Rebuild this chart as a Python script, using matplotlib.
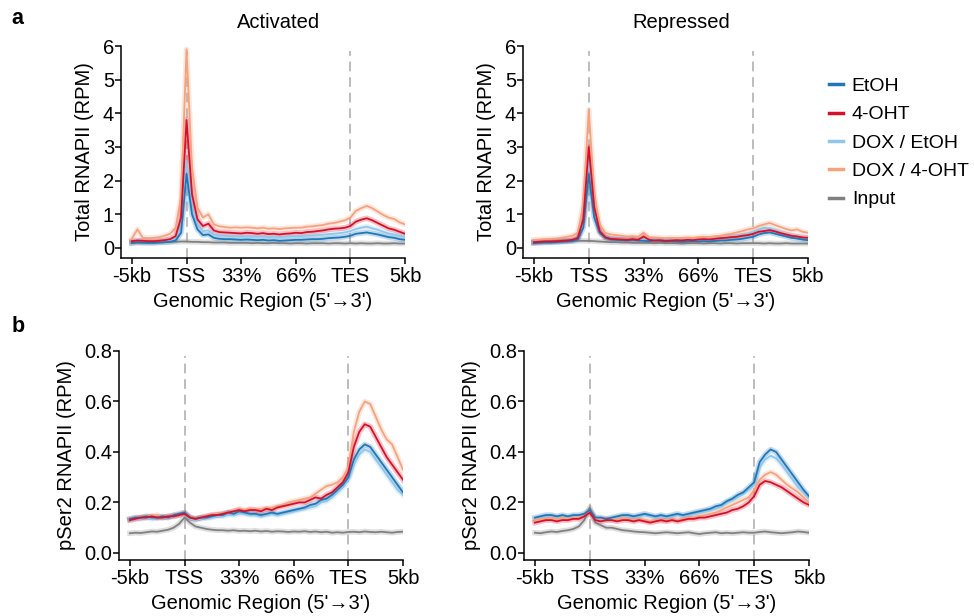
import numpy as np
import matplotlib
matplotlib.use('Agg')
from matplotlib import pyplot as plt
from matplotlib.lines import Line2D

plt.rcParams['font.family'] = ['Liberation Sans', 'DejaVu Sans']

# metagene bins: -5kb .. TSS (10 bins), gene body (30 bins), TES .. +5kb (10 bins)
x = np.linspace(0, 5, 51)
tick_pos = [0, 1, 2, 3, 4, 5]
tick_labels = ['-5kb', 'TSS', '33%', '66%', 'TES', '5kb']
samples = ['EtOH', '4-OHT', 'DOX / EtOH', 'DOX / 4-OHT', 'Input']
colors = ['#1f77b8', '#d7102a', '#8fc6ea', '#f5a27f', '#808080']

# ---- Total RNAPII, Activated
act_etoh = [0.15, 0.17, 0.16, 0.15, 0.15, 0.16, 0.17, 0.18, 0.22, 0.45,
            2.2,
            1.0, 0.55, 0.38, 0.40, 0.30, 0.27, 0.26, 0.26, 0.25, 0.24,
            0.25, 0.24, 0.23, 0.24, 0.22, 0.23, 0.21, 0.22, 0.23, 0.24,
            0.24, 0.25, 0.26, 0.26, 0.27, 0.29, 0.30, 0.31, 0.33, 0.36,
            0.42, 0.44, 0.46, 0.43, 0.40, 0.36, 0.32, 0.30, 0.26, 0.24]
act_4oht = [0.20, 0.22, 0.21, 0.20, 0.20, 0.21, 0.23, 0.26, 0.35, 0.90,
            3.8,
            1.6, 0.85, 0.65, 0.72, 0.52, 0.47, 0.46, 0.45, 0.44, 0.43,
            0.45, 0.44, 0.42, 0.44, 0.41, 0.42, 0.40, 0.42, 0.43, 0.45,
            0.44, 0.47, 0.48, 0.50, 0.52, 0.55, 0.57, 0.58, 0.60, 0.65,
            0.78, 0.84, 0.88, 0.82, 0.74, 0.66, 0.58, 0.54, 0.48, 0.42]
act_doxetoh = [0.18, 0.20, 0.19, 0.18, 0.19, 0.20, 0.21, 0.23, 0.28, 0.60,
               2.6,
               1.2, 0.70, 0.50, 0.52, 0.40, 0.37, 0.36, 0.35, 0.35, 0.34,
               0.35, 0.34, 0.33, 0.34, 0.32, 0.33, 0.32, 0.33, 0.34, 0.35,
               0.35, 0.36, 0.37, 0.38, 0.39, 0.41, 0.42, 0.44, 0.46, 0.50,
               0.56, 0.60, 0.63, 0.58, 0.54, 0.48, 0.43, 0.40, 0.36, 0.33]
act_dox4oht = [0.28, 0.55, 0.30, 0.29, 0.30, 0.32, 0.36, 0.42, 0.60, 1.50,
               5.9,
               2.4, 1.20, 0.90, 1.00, 0.70, 0.64, 0.62, 0.60, 0.61, 0.60,
               0.61, 0.60, 0.58, 0.60, 0.57, 0.58, 0.56, 0.58, 0.59, 0.60,
               0.60, 0.63, 0.64, 0.66, 0.68, 0.72, 0.74, 0.78, 0.82, 0.90,
               1.10, 1.18, 1.25, 1.18, 1.08, 0.98, 0.90, 0.86, 0.76, 0.70]
act_input = [0.14, 0.15, 0.15, 0.16, 0.16, 0.17, 0.17, 0.18, 0.18, 0.19,
             0.19,
             0.18, 0.18, 0.17, 0.17, 0.16, 0.16, 0.16, 0.15, 0.15, 0.15,
             0.15, 0.14, 0.15, 0.14, 0.14, 0.15, 0.14, 0.14, 0.13, 0.14,
             0.14, 0.13, 0.14, 0.14, 0.14, 0.13, 0.14, 0.14, 0.13, 0.14,
             0.13, 0.14, 0.13, 0.13, 0.14, 0.13, 0.13, 0.14, 0.13, 0.13]

# ---- Total RNAPII, Repressed
rep_etoh = [0.14, 0.15, 0.16, 0.16, 0.17, 0.18, 0.19, 0.20, 0.25, 0.60,
            2.2,
            0.90, 0.45, 0.30, 0.25, 0.24, 0.23, 0.22, 0.24, 0.22, 0.21,
            0.20, 0.22, 0.21, 0.19, 0.20, 0.19, 0.18, 0.19, 0.20, 0.19,
            0.20, 0.19, 0.21, 0.22, 0.22, 0.24, 0.25, 0.27, 0.30, 0.33,
            0.40, 0.44, 0.46, 0.42, 0.38, 0.34, 0.30, 0.28, 0.25, 0.23]
rep_4oht = [0.17, 0.18, 0.19, 0.19, 0.20, 0.21, 0.22, 0.24, 0.30, 0.85,
            3.0,
            1.20, 0.50, 0.32, 0.27, 0.26, 0.25, 0.24, 0.26, 0.24, 0.34,
            0.24, 0.22, 0.23, 0.21, 0.22, 0.23, 0.22, 0.24, 0.23, 0.25,
            0.26, 0.25, 0.27, 0.29, 0.30, 0.32, 0.33, 0.36, 0.38, 0.42,
            0.48, 0.50, 0.53, 0.49, 0.44, 0.40, 0.36, 0.34, 0.31, 0.30]
rep_doxetoh = [0.15, 0.16, 0.17, 0.17, 0.18, 0.19, 0.20, 0.22, 0.28, 0.75,
               2.7,
               1.10, 0.50, 0.33, 0.28, 0.27, 0.25, 0.24, 0.26, 0.24, 0.23,
               0.24, 0.25, 0.23, 0.22, 0.23, 0.22, 0.21, 0.22, 0.23, 0.24,
               0.25, 0.25, 0.27, 0.28, 0.30, 0.33, 0.35, 0.38, 0.42, 0.48,
               0.55, 0.60, 0.58, 0.52, 0.46, 0.40, 0.36, 0.33, 0.30, 0.28]
rep_dox4oht = [0.24, 0.25, 0.26, 0.27, 0.28, 0.30, 0.33, 0.36, 0.45, 1.30,
               4.1,
               1.60, 0.70, 0.45, 0.40, 0.38, 0.36, 0.34, 0.35, 0.33, 0.45,
               0.32, 0.31, 0.30, 0.29, 0.30, 0.29, 0.30, 0.31, 0.30, 0.32,
               0.33, 0.32, 0.35, 0.36, 0.40, 0.42, 0.46, 0.50, 0.55, 0.58,
               0.65, 0.70, 0.74, 0.68, 0.62, 0.56, 0.52, 0.55, 0.48, 0.45]
rep_input = [0.18, 0.19, 0.19, 0.20, 0.20, 0.20, 0.21, 0.21, 0.21, 0.21,
             0.21,
             0.20, 0.19, 0.18, 0.17, 0.17, 0.16, 0.16, 0.15, 0.15, 0.15,
             0.15, 0.14, 0.15, 0.14, 0.14, 0.14, 0.13, 0.14, 0.14, 0.14,
             0.13, 0.14, 0.14, 0.13, 0.14, 0.14, 0.13, 0.14, 0.14, 0.14,
             0.14, 0.13, 0.14, 0.13, 0.13, 0.14, 0.13, 0.13, 0.13, 0.13]

# ---- pSer2 RNAPII, Activated
ser_act_etoh = [0.135, 0.14, 0.14, 0.145, 0.14, 0.14, 0.145, 0.14, 0.15, 0.155,
                0.16,
                0.14, 0.135, 0.14, 0.14, 0.145, 0.15, 0.15, 0.16, 0.155, 0.165,
                0.16, 0.155, 0.155, 0.15, 0.155, 0.16, 0.155, 0.16, 0.165, 0.17,
                0.175, 0.18, 0.19, 0.195, 0.21, 0.215, 0.23, 0.25, 0.27, 0.30,
                0.37, 0.41, 0.43, 0.42, 0.39, 0.36, 0.33, 0.30, 0.27, 0.24]
ser_act_4oht = [0.13, 0.135, 0.14, 0.14, 0.145, 0.14, 0.14, 0.145, 0.145, 0.15,
                0.155,
                0.14, 0.135, 0.14, 0.145, 0.15, 0.15, 0.155, 0.16, 0.165, 0.17,
                0.165, 0.17, 0.17, 0.165, 0.175, 0.17, 0.18, 0.185, 0.19, 0.195,
                0.20, 0.20, 0.21, 0.22, 0.215, 0.23, 0.24, 0.26, 0.28, 0.32,
                0.42, 0.48, 0.51, 0.50, 0.46, 0.42, 0.38, 0.35, 0.32, 0.29]
ser_act_doxetoh = [0.13, 0.135, 0.135, 0.14, 0.135, 0.14, 0.14, 0.14, 0.145, 0.15,
                   0.155,
                   0.135, 0.13, 0.135, 0.14, 0.14, 0.145, 0.145, 0.15, 0.15, 0.155,
                   0.155, 0.15, 0.15, 0.145, 0.15, 0.155, 0.15, 0.155, 0.16, 0.165,
                   0.17, 0.175, 0.18, 0.185, 0.20, 0.205, 0.22, 0.24, 0.26, 0.29,
                   0.35, 0.39, 0.41, 0.40, 0.37, 0.34, 0.31, 0.28, 0.25, 0.23]
ser_act_dox4oht = [0.135, 0.14, 0.14, 0.145, 0.145, 0.15, 0.14, 0.145, 0.15, 0.15,
                   0.16,
                   0.14, 0.135, 0.14, 0.145, 0.15, 0.155, 0.155, 0.16, 0.165, 0.175,
                   0.17, 0.175, 0.17, 0.175, 0.175, 0.18, 0.185, 0.19, 0.20, 0.205,
                   0.21, 0.215, 0.22, 0.235, 0.25, 0.265, 0.27, 0.28, 0.30, 0.34,
                   0.48, 0.56, 0.60, 0.59, 0.54, 0.49, 0.45, 0.43, 0.38, 0.33]
ser_act_input = [0.078, 0.08, 0.079, 0.082, 0.085, 0.084, 0.088, 0.092, 0.10, 0.115,
                 0.14,
                 0.12, 0.105, 0.10, 0.095, 0.092, 0.09, 0.09, 0.088, 0.09, 0.087,
                 0.088, 0.086, 0.088, 0.085, 0.087, 0.084, 0.086, 0.085, 0.083, 0.085,
                 0.084, 0.086, 0.083, 0.085, 0.082, 0.084, 0.08, 0.082, 0.08, 0.083,
                 0.084, 0.082, 0.085, 0.083, 0.082, 0.084, 0.082, 0.08, 0.083, 0.084]

# ---- pSer2 RNAPII, Repressed
ser_rep_etoh = [0.14, 0.145, 0.15, 0.15, 0.145, 0.15, 0.145, 0.15, 0.15, 0.155,
                0.17,
                0.14, 0.14, 0.135, 0.14, 0.145, 0.15, 0.15, 0.145, 0.15, 0.155,
                0.15, 0.145, 0.15, 0.145, 0.15, 0.155, 0.15, 0.155, 0.16, 0.165,
                0.17, 0.175, 0.185, 0.19, 0.205, 0.215, 0.23, 0.24, 0.26, 0.28,
                0.36, 0.39, 0.41, 0.40, 0.37, 0.34, 0.31, 0.28, 0.25, 0.225]
ser_rep_4oht = [0.12, 0.125, 0.13, 0.13, 0.125, 0.13, 0.13, 0.135, 0.135, 0.145,
                0.16,
                0.13, 0.125, 0.13, 0.13, 0.125, 0.13, 0.13, 0.125, 0.13, 0.125,
                0.12, 0.125, 0.13, 0.125, 0.13, 0.125, 0.13, 0.135, 0.135, 0.14,
                0.14, 0.145, 0.15, 0.155, 0.16, 0.17, 0.175, 0.185, 0.20, 0.225,
                0.27, 0.285, 0.28, 0.27, 0.26, 0.245, 0.23, 0.215, 0.20, 0.19]
ser_rep_doxetoh = [0.135, 0.14, 0.145, 0.145, 0.14, 0.145, 0.14, 0.145, 0.145, 0.15,
                   0.165,
                   0.135, 0.135, 0.13, 0.135, 0.14, 0.145, 0.145, 0.14, 0.145, 0.15,
                   0.145, 0.14, 0.145, 0.14, 0.145, 0.15, 0.145, 0.15, 0.155, 0.16,
                   0.165, 0.17, 0.175, 0.185, 0.20, 0.21, 0.22, 0.235, 0.25, 0.27,
                   0.34, 0.37, 0.385, 0.375, 0.35, 0.32, 0.29, 0.26, 0.24, 0.215]
ser_rep_dox4oht = [0.13, 0.135, 0.135, 0.14, 0.135, 0.14, 0.135, 0.14, 0.14, 0.15,
                   0.165,
                   0.14, 0.135, 0.135, 0.13, 0.135, 0.14, 0.135, 0.13, 0.135, 0.13,
                   0.125, 0.13, 0.125, 0.13, 0.135, 0.13, 0.135, 0.14, 0.14, 0.145,
                   0.15, 0.155, 0.16, 0.17, 0.18, 0.19, 0.20, 0.21, 0.22, 0.25,
                   0.29, 0.31, 0.32, 0.31, 0.29, 0.27, 0.255, 0.24, 0.22, 0.20]
ser_rep_input = [0.08, 0.078, 0.082, 0.085, 0.083, 0.087, 0.09, 0.095, 0.105, 0.13,
                 0.18,
                 0.12, 0.11, 0.10, 0.10, 0.095, 0.09, 0.088, 0.085, 0.083, 0.082,
                 0.08, 0.078, 0.08, 0.082, 0.08, 0.078, 0.08, 0.082, 0.078, 0.075,
                 0.078, 0.08, 0.082, 0.078, 0.08, 0.078, 0.08, 0.082, 0.08, 0.08,
                 0.083, 0.085, 0.082, 0.08, 0.078, 0.08, 0.082, 0.085, 0.083, 0.08]

panels = [
    # (left, bottom, right, top in px), series, ylim, yticks, ylabel
    ((121, 258, 405, 46), [act_etoh, act_4oht, act_doxetoh, act_dox4oht, act_input],
     (-0.3, 6), [0, 1, 2, 3, 4, 5, 6], 'Total RNAPII (RPM)'),
    ((523, 258, 808, 46), [rep_etoh, rep_4oht, rep_doxetoh, rep_dox4oht, rep_input],
     (-0.3, 6), [0, 1, 2, 3, 4, 5, 6], 'Total RNAPII (RPM)'),
    ((119, 560, 403, 351), [ser_act_etoh, ser_act_4oht, ser_act_doxetoh, ser_act_dox4oht, ser_act_input],
     (-0.028, 0.8), [0.0, 0.2, 0.4, 0.6, 0.8], 'pSer2 RNAPII (RPM)'),
    ((524, 560, 809, 351), [ser_rep_etoh, ser_rep_4oht, ser_rep_doxetoh, ser_rep_dox4oht, ser_rep_input],
     (-0.028, 0.8), [0.0, 0.2, 0.4, 0.6, 0.8], 'pSer2 RNAPII (RPM)'),
]

W, H = 974, 616
fig = plt.figure(figsize=(W / 100, H / 100), dpi=100)
draw_order = [4, 2, 3, 0, 1]
fs = 14.5

for (l, b, r, t), series, ylim, yticks, ylabel in panels:
    ax = fig.add_axes([l / W, 1 - b / H, (r - l) / W, (b - t) / H])
    for k in [1, 4]:
        ax.axvline(k, ymax=0.975, color='#bdbdbd', linestyle=(0, (5, 3)), linewidth=1.4, zorder=1)
    for i in draw_order:
        ax.plot(x, series[i], color=colors[i], linewidth=4.0, alpha=0.25, zorder=2)
        ax.plot(x, series[i], color=colors[i], linewidth=1.3, zorder=3)
    ax.set_xlim(-0.2, 5)
    ax.set_ylim(*ylim)
    ax.set_yticks(yticks)
    if ylim[1] < 1:
        ax.set_yticklabels([f'{v:.1f}' for v in yticks])
    ax.set_xticks(tick_pos)
    ax.set_xticklabels(tick_labels)
    ax.tick_params(labelsize=fs, width=1.1, length=4)
    ax.tick_params(axis='x', pad=2.5)
    ax.tick_params(axis='y', pad=1)
    for s in ['top', 'right']:
        ax.spines[s].set_visible(False)
    for s in ['left', 'bottom']:
        ax.spines[s].set_linewidth(1.1)
    ax.set_xlabel("Genomic Region (5'\u21923')", fontsize=fs, labelpad=4.5)
    ax.set_ylabel(ylabel, fontsize=fs, labelpad=6)

fig.text(279 / W, 1 - 22 / H, 'Activated', fontsize=fs, ha='center', va='center')
fig.text(681 / W, 1 - 22 / H, 'Repressed', fontsize=fs, ha='center', va='center')
fig.text(17 / W, 1 - 19 / H, 'a', fontsize=15.5, fontweight='bold', ha='center', va='center')
fig.text(18 / W, 1 - 326 / H, 'b', fontsize=15.5, fontweight='bold', ha='center', va='center')

handles = [Line2D([0], [0], color=c, linewidth=2.5) for c in colors]
fig.legend(handles, samples, loc='upper left', bbox_to_anchor=(811 / W, 1 - 60 / H),
           frameon=False, fontsize=14, handlelength=0.75, handletextpad=0.45,
           labelspacing=0.55)

plt.savefig('out.png', dpi=100)
